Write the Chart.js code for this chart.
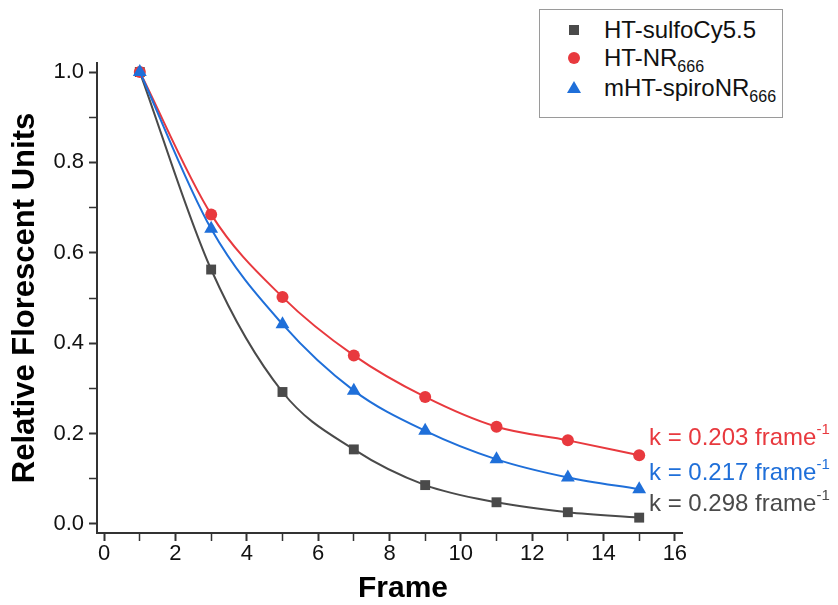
<!DOCTYPE html>
<html>
<head>
<meta charset="utf-8">
<script src="https://cdn.jsdelivr.net/npm/chart.js@4.4.0/dist/chart.umd.min.js"></script>
<style>
  html, body { margin: 0; padding: 0; background: #fff; }
  #wrap { position: relative; width: 838px; height: 605px; font-family: "Liberation Sans", Arial, sans-serif; }
  #chart { position: absolute; left: 0; top: 0; }
  .legend { position: absolute; left: 539px; top: 9px; width: 244px; height: 109px; border: 1px solid #9a9a9a; box-sizing: border-box; background: #fff; }
  .row { position: absolute; left: 0; height: 30px; line-height: 30px; font-size: 24px; color: #111; white-space: nowrap; }
  .row .txt { position: absolute; left: 64px; top: 0; }
  .mk { position: absolute; }
  .sq { width: 10px; height: 10px; background: #4a4a4a; left: 29px; top: 10px; }
  .ci { width: 12px; height: 12px; border-radius: 50%; background: #e8393e; left: 28px; top: 9px; }
  .tr { width: 0; height: 0; border-left: 7px solid transparent; border-right: 7px solid transparent; border-bottom: 12px solid #1f6fd9; left: 27px; top: 8px; }
  sub { font-size: 16px; vertical-align: -6px; line-height: 0; }
  .k { position: absolute; left: 649px; font-size: 24px; line-height: 28px; white-space: nowrap; }
  .k sup { font-size: 15px; vertical-align: 11px; line-height: 0; }
  .xt { position: absolute; left: 303px; width: 200px; top: 570px; text-align: center; font-size: 30px; font-weight: bold; line-height: 34px; color: #000; }
</style>
</head>
<body>
<div id="wrap">
  <canvas id="chart" width="838" height="605"></canvas>
  <div class="legend">
    <div class="row" style="top:5px;"><span class="mk sq"></span><span class="txt">HT-sulfoCy5.5</span></div>
    <div class="row" style="top:33px;"><span class="mk ci"></span><span class="txt">HT-NR<sub>666</sub></span></div>
    <div class="row" style="top:63px;"><span class="mk tr"></span><span class="txt">mHT-spiroNR<sub>666</sub></span></div>
  </div>
  <div class="k" style="top:423px;color:#e8393e;">k = 0.203 frame<sup>-1</sup></div>
  <div class="k" style="top:458px;color:#1f6fd9;">k = 0.217 frame<sup>-1</sup></div>
  <div class="k" style="top:489px;color:#4a4a4a;">k = 0.298 frame<sup>-1</sup></div>
  <div class="xt">Frame</div>
</div>
<script>
(function () {
  "use strict";

  /* ── Data ── */
  const FRAMES   = [1, 3, 5, 7, 9, 11, 13, 15];
  const SULFOCY  = [1.0, 0.563, 0.292, 0.165, 0.086, 0.048, 0.026, 0.014];
  const NR666    = [1.0, 0.685, 0.502, 0.373, 0.281, 0.215, 0.185, 0.152];
  const SPIRO    = [1.0, 0.653, 0.442, 0.295, 0.206, 0.143, 0.103, 0.077];

  const X_TICKS  = [0, 1, 2, 3, 4, 5, 6, 7, 8, 9, 10, 11, 12, 13, 14, 15, 16];
  const X_LABELS = [0, 2, 4, 6, 8, 10, 12, 14, 16];
  const Y_TICKS  = [0, 0.1, 0.2, 0.3, 0.4, 0.5, 0.6, 0.7, 0.8, 0.9, 1.0];
  const Y_LABELS = [0, 0.2, 0.4, 0.6, 0.8, 1.0];

  const GRAY = '#4a4a4a', RED = '#e8393e', BLUE = '#1f6fd9';
  const FONT = '"Liberation Sans", Arial, sans-serif';

  function pts(ys) { return FRAMES.map((x, i) => ({ x: x, y: ys[i] })); }
  function isLabeled(list, v) { return list.some(l => Math.abs(l - v) < 1e-6); }

  function series(label, ys, color, style, radius, order) {
    return {
      label: label, data: pts(ys), order: order,
      borderColor: color, backgroundColor: color, borderWidth: 2,
      pointStyle: style, pointRadius: radius, pointBorderWidth: 0,
      pointBackgroundColor: color, cubicInterpolationMode: 'monotone'
    };
  }

  new Chart(document.getElementById('chart'), {
    type: 'line',
    data: {
      datasets: [
        series('HT-sulfoCy5.5', SULFOCY, GRAY, 'rect', 7, 3),
        series('HT-NR666', NR666, RED, 'circle', 6, 2),
        series('mHT-spiroNR666', SPIRO, BLUE, 'triangle', 8, 1)
      ]
    },
    options: {
      responsive: false, animation: false,
      layout: { padding: { left: 0, top: 63, right: 156, bottom: 0 } },
      plugins: { legend: { display: false }, tooltip: { enabled: false } },
      scales: {
        x: {
          type: 'linear', min: -0.2, max: 16.2,
          afterBuildTicks: s => { s.ticks = X_TICKS.map(v => ({ value: v })); },
          afterFit: s => { s.height = 72; },
          border: { display: true, color: '#333', width: 2 },
          grid: { display: true, drawOnChartArea: false, drawTicks: true, tickLength: 8, tickColor: '#333',
                  tickWidth: c => isLabeled(X_LABELS, c.tick.value) ? 2 : 1.5 },
          ticks: { autoSkip: false, maxRotation: 0, padding: 0, color: '#111', font: { family: FONT, size: 22 },
                   callback: v => isLabeled(X_LABELS, v) ? String(v) : '' },
          title: { display: false }
        },
        y: {
          type: 'linear', min: -0.02, max: 1.02,
          afterBuildTicks: s => { s.ticks = Y_TICKS.map(v => ({ value: v })); },
          afterFit: s => { s.width = 97; },
          border: { display: true, color: '#333', width: 2 },
          grid: { display: true, drawOnChartArea: false, drawTicks: true, tickLength: 8, tickColor: '#333',
                  tickWidth: c => isLabeled(Y_LABELS, c.tick.value) ? 2 : 1.5 },
          ticks: { autoSkip: false, padding: 5, color: '#111', font: { family: FONT, size: 22 },
                   callback: v => isLabeled(Y_LABELS, v) ? v.toFixed(1) : '' },
          title: { display: true, text: 'Relative Florescent Units', color: '#000', font: { family: FONT, size: 31, weight: 'bold' }, padding: { top: 7, bottom: 0 } }
        }
      }
    }
  });
})();
</script>
</body>
</html>
